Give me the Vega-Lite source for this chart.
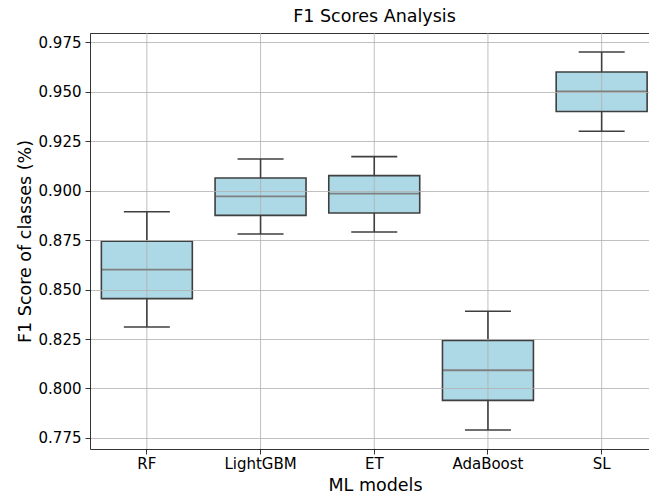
{
  "$schema": "https://vega.github.io/schema/vega-lite/v6.json",
  "autosize": {"type": "none"},
  "padding": {"left": 90, "top": 33, "right": 0, "bottom": 49},
  "width": 559,
  "height": 416,
  "background": "white",
  "title": {"text": "F1 Scores Analysis", "fontSize": 17.5, "font": "DejaVu Sans", "fontWeight": "normal", "color": "black", "frame": "group", "anchor": "middle", "dx": 5, "offset": 7},
  "data": {"values": [
    {"model": "RF", "lower": 0.8311, "q1": 0.8454, "median": 0.8601, "q3": 0.8744, "upper": 0.8893},
    {"model": "LightGBM", "lower": 0.8781, "q1": 0.8875, "median": 0.8971, "q3": 0.9064, "upper": 0.9160},
    {"model": "ET", "lower": 0.8791, "q1": 0.8887, "median": 0.8985, "q3": 0.9076, "upper": 0.9172},
    {"model": "AdaBoost", "lower": 0.7790, "q1": 0.7940, "median": 0.8092, "q3": 0.8243, "upper": 0.8390},
    {"model": "SL", "lower": 0.9300, "q1": 0.9400, "median": 0.9502, "q3": 0.9600, "upper": 0.9701}
  ]},
  "config": {
    "view": {"stroke": null},
    "axis": {"labelFont": "DejaVu Sans", "titleFont": "DejaVu Sans", "labelFontSize": 15, "titleFontSize": 17.5, "titleFontWeight": "normal", "labelColor": "black", "titleColor": "black", "domainColor": "black", "domainWidth": 0.8, "tickColor": "black", "tickWidth": 0.8, "tickSize": 5, "gridColor": "#b0b0b0", "gridWidth": 0.8, "gridOpacity": 1}
  },
  "resolve": {"axis": {"x": "independent"}},
  "layer": [
    {
      "mark": {"type": "bar", "fill": "#add8e6", "width": {"band": 0.8}},
      "encoding": {
        "x": {"field": "model", "type": "nominal", "sort": ["RF", "LightGBM", "ET", "AdaBoost", "SL"],
              "scale": {"range": [0, 568.5], "paddingInner": 0, "paddingOuter": 0},
              "axis": {"title": "ML models", "labelAngle": 0, "grid": false, "bandPosition": 0.5, "labelPadding": 2, "titlePadding": 5, "titleX": 285}},
        "y": {"field": "q1", "type": "quantitative", "title": "F1 Score of classes (%)",
              "scale": {"domain": [0.7694, 0.9797], "nice": false, "zero": false},
              "axis": {"values": [0.775, 0.8, 0.825, 0.85, 0.875, 0.9, 0.925, 0.95, 0.975], "format": ".3f", "grid": true, "zindex": 1, "labelPadding": 4, "titlePadding": 4}},
        "y2": {"field": "q3"}
      }
    },
    {
      "mark": {"type": "rule", "color": "#b0b0b0", "strokeWidth": 0.8},
      "encoding": {
        "x": {"field": "model", "type": "nominal", "sort": ["RF", "LightGBM", "ET", "AdaBoost", "SL"],
              "axis": {"orient": "top", "labels": false, "ticks": false, "grid": false, "domain": true, "title": null}}
      }
    },
    {
      "mark": {"type": "rule", "color": "#3f3f3f", "strokeWidth": 1.6},
      "encoding": {
        "x": {"field": "model", "type": "nominal", "sort": ["RF", "LightGBM", "ET", "AdaBoost", "SL"], "axis": null},
        "y": {"field": "lower", "type": "quantitative", "title": "F1 Score of classes (%)"},
        "y2": {"field": "q1"}
      }
    },
    {
      "mark": {"type": "rule", "color": "#3f3f3f", "strokeWidth": 1.6},
      "encoding": {
        "x": {"field": "model", "type": "nominal", "sort": ["RF", "LightGBM", "ET", "AdaBoost", "SL"], "axis": null},
        "y": {"field": "q3", "type": "quantitative", "title": "F1 Score of classes (%)"},
        "y2": {"field": "upper"}
      }
    },
    {
      "mark": {"type": "tick", "color": "#3f3f3f", "size": 46, "thickness": 1.6, "opacity": 1},
      "encoding": {
        "x": {"field": "model", "type": "nominal", "sort": ["RF", "LightGBM", "ET", "AdaBoost", "SL"], "axis": null},
        "y": {"field": "lower", "type": "quantitative", "title": "F1 Score of classes (%)"}
      }
    },
    {
      "mark": {"type": "tick", "color": "#3f3f3f", "size": 46, "thickness": 1.6, "opacity": 1},
      "encoding": {
        "x": {"field": "model", "type": "nominal", "sort": ["RF", "LightGBM", "ET", "AdaBoost", "SL"], "axis": null},
        "y": {"field": "upper", "type": "quantitative", "title": "F1 Score of classes (%)"}
      }
    },
    {
      "mark": {"type": "tick", "color": "#808080", "size": 90, "thickness": 1.8, "opacity": 1},
      "encoding": {
        "x": {"field": "model", "type": "nominal", "sort": ["RF", "LightGBM", "ET", "AdaBoost", "SL"], "axis": null},
        "y": {"field": "median", "type": "quantitative", "title": "F1 Score of classes (%)"}
      }
    },
    {
      "mark": {"type": "bar", "fill": null, "fillOpacity": 0, "stroke": "#3f3f3f", "strokeWidth": 1.6, "width": {"band": 0.8}},
      "encoding": {
        "x": {"field": "model", "type": "nominal", "sort": ["RF", "LightGBM", "ET", "AdaBoost", "SL"], "axis": null},
        "y": {"field": "q1", "type": "quantitative", "title": "F1 Score of classes (%)"},
        "y2": {"field": "q3"}
      }
    }
  ]
}
